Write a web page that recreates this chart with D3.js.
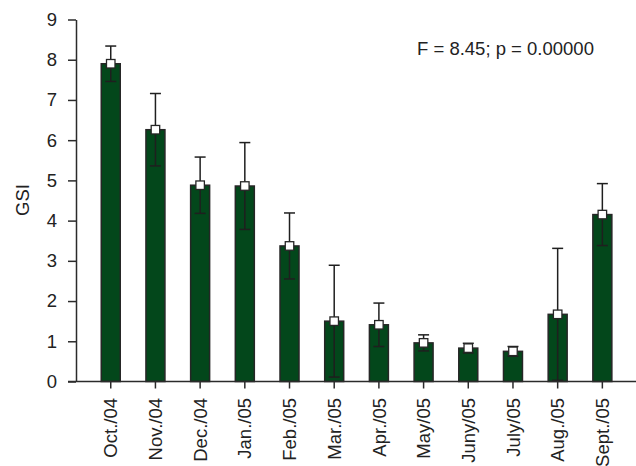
<!DOCTYPE html>
<html>
<head>
<meta charset="utf-8">
<script src="https://cdn.jsdelivr.net/npm/d3@7"></script>
<style>
  html, body { margin: 0; padding: 0; background: #fff; }
  svg { display: block; font-family: "Liberation Sans", Arial, sans-serif; }
</style>
</head>
<body>
<svg id="chart" width="636" height="466"></svg>
<script>
// Monthly gonadosomatic index: mean and standard deviation
const months = ["Oct./04", "Nov./04", "Dec./04", "Jan./05", "Feb./05", "Mar./05",
                "Apr./05", "May/05", "Juny/05", "July/05", "Aug./05", "Sept./05"];
const gsiMean = [7.90, 6.26, 4.88, 4.86, 3.37, 1.50, 1.41, 0.96, 0.83, 0.75, 1.67, 4.15];
const gsiSD   = [0.44, 0.90, 0.70, 1.08, 0.82, 1.39, 0.54, 0.20, 0.12, 0.12, 1.64, 0.77];
const yTicks  = [0, 1, 2, 3, 4, 5, 6, 7, 8, 9];
const statText = "F = 8.45; p = 0.00000";
const yTitle = "GSI";

const rows = months.map((m, i) => ({ month: m, mean: gsiMean[i], sd: gsiSD[i] }));

const svg = d3.select("#chart");
const axisColor = "#2b2b2b";
const barFill = "#03471b";
const fontSize = 18.5;

const x = d3.scaleBand()
  .domain(months)
  .range([88.4, 624.7])
  .paddingInner(0.575)
  .paddingOuter(0.2875);

const y = d3.scaleLinear().domain([0, 9]).range([381.5, 19.5]);

// Bars
svg.append("g").selectAll("rect")
  .data(rows)
  .join("rect")
  .attr("x", d => x(d.month))
  .attr("y", d => y(d.mean))
  .attr("width", x.bandwidth())
  .attr("height", d => y(0) - y(d.mean))
  .attr("fill", barFill)
  .attr("stroke", "#262626")
  .attr("stroke-width", 1.5);

// Error bars (mean ± SD, not below zero)
const cx = d => x(d.month) + x.bandwidth() / 2;
const capW = 5.5;
const err = svg.append("g")
  .attr("stroke", "#1f1f1f")
  .attr("stroke-width", 1.5)
  .selectAll("g")
  .data(rows)
  .join("g");
err.append("line")
  .attr("x1", cx).attr("x2", cx)
  .attr("y1", d => y(d.mean + d.sd))
  .attr("y2", d => y(Math.max(0, d.mean - d.sd)));
err.append("line")
  .attr("x1", d => cx(d) - capW).attr("x2", d => cx(d) + capW)
  .attr("y1", d => y(d.mean + d.sd)).attr("y2", d => y(d.mean + d.sd));
err.append("line")
  .attr("x1", d => cx(d) - capW).attr("x2", d => cx(d) + capW)
  .attr("y1", d => y(Math.max(0, d.mean - d.sd))).attr("y2", d => y(Math.max(0, d.mean - d.sd)));

// Mean markers
const mk = 8.5;
svg.append("g").selectAll("rect")
  .data(rows)
  .join("rect")
  .attr("x", d => cx(d) - mk / 2)
  .attr("y", d => y(d.mean) - mk / 2)
  .attr("width", mk)
  .attr("height", mk)
  .attr("fill", "#fff")
  .attr("stroke", "#262626")
  .attr("stroke-width", 1.3);

// Y axis
const yAxis = svg.append("g")
  .attr("transform", "translate(76,0)")
  .call(d3.axisLeft(y).tickValues(yTicks).tickFormat(d3.format("d"))
    .tickSize(8).tickSizeOuter(0).tickPadding(11));
yAxis.select(".domain").attr("stroke", axisColor).attr("stroke-width", 1.5);
yAxis.selectAll(".tick line").attr("stroke", axisColor).attr("stroke-width", 1.5);
yAxis.selectAll(".tick text")
  .attr("fill", "#222")
  .style("font-size", fontSize + "px")
  .style("font-family", "'Liberation Sans', Arial, sans-serif");

// X axis baseline across the full width
svg.append("line")
  .attr("x1", 68).attr("x2", 636)
  .attr("y1", y(0)).attr("y2", y(0))
  .attr("stroke", axisColor).attr("stroke-width", 1.5);

const xAxis = svg.append("g")
  .attr("transform", `translate(0,${y(0)})`)
  .call(d3.axisBottom(x).tickSize(7).tickSizeOuter(0).tickFormat(""));
xAxis.select(".domain").remove();
xAxis.selectAll(".tick line").attr("stroke", axisColor).attr("stroke-width", 1.5);

// Rotated month labels
svg.append("g").selectAll("text")
  .data(months)
  .join("text")
  .attr("transform", m => `translate(${x(m) + x.bandwidth() / 2},398) rotate(-90)`)
  .attr("text-anchor", "end")
  .attr("dy", "0.36em")
  .attr("fill", "#222")
  .style("font-size", fontSize + "px")
  .text(m => m);

// Axis title
svg.append("text")
  .attr("transform", "translate(22.5,200) rotate(-90)")
  .attr("text-anchor", "middle")
  .attr("dy", "0.36em")
  .attr("fill", "#222")
  .style("font-size", fontSize + "px")
  .text(yTitle);

// Test statistic
svg.append("text")
  .attr("x", 417)
  .attr("y", 55)
  .attr("fill", "#222")
  .style("font-size", fontSize + "px")
  .text(statText);
</script>
</body>
</html>
